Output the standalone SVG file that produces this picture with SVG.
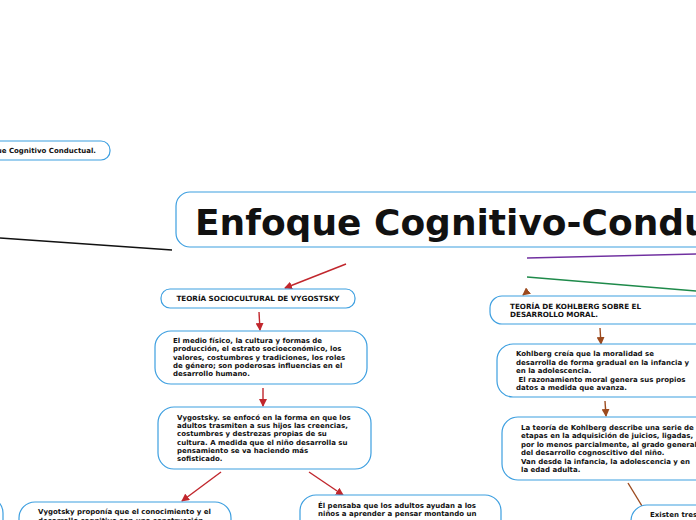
<svg xmlns="http://www.w3.org/2000/svg" width="696" height="520" viewBox="0 0 696 520">
<style>
.box{fill:#fff;stroke:#3d9fe0;stroke-width:1.2}
.t{font-family:"DejaVu Sans",Verdana,sans-serif;font-weight:bold;font-size:7px;fill:#111}
.c{font-size:7.2px}
.title{font-family:"DejaVu Sans",Verdana,sans-serif;font-weight:bold;font-size:36px;fill:#111}
.red{stroke:#c1272d;stroke-width:1.4;fill:none}
.brown{stroke:#9c4a1e;stroke-width:1.4;fill:none}
</style>
<defs>
<marker id="ar" markerWidth="8" markerHeight="8" refX="7" refY="4" orient="auto" markerUnits="userSpaceOnUse"><path d="M0,0 L8,4 L0,8 Z" fill="#c1272d"/></marker>
<marker id="ab" markerWidth="8" markerHeight="8" refX="7" refY="4" orient="auto" markerUnits="userSpaceOnUse"><path d="M0,0 L8,4 L0,8 Z" fill="#9c4a1e"/></marker>
</defs>
<rect width="696" height="520" fill="#fff"/>
<g id="connectors">
<line x1="0" y1="238" x2="172" y2="250" stroke="#111" stroke-width="1.5"/>
<line class="red" x1="346" y1="264" x2="285" y2="288" marker-end="url(#ar)"/>
<line x1="527" y1="258" x2="696" y2="254" stroke="#7030a0" stroke-width="1.4"/>
<line x1="527" y1="277" x2="696" y2="291" stroke="#1e8a4a" stroke-width="1.4"/>
<line class="brown" x1="528" y1="291" x2="523" y2="295" marker-end="url(#ab)"/>
<line class="red" x1="259" y1="312" x2="260" y2="330" marker-end="url(#ar)"/>
<line class="red" x1="263" y1="388" x2="263" y2="406" marker-end="url(#ar)"/>
<line class="red" x1="221" y1="472" x2="182" y2="501" marker-end="url(#ar)"/>
<line class="red" x1="309" y1="472" x2="343" y2="495" marker-end="url(#ar)"/>
<line class="brown" x1="600" y1="328" x2="601" y2="344" marker-end="url(#ab)"/>
<line class="brown" x1="605" y1="401" x2="606" y2="416" marker-end="url(#ab)"/>
<line class="brown" x1="628" y1="483" x2="642" y2="506"/>
</g>
<g id="n-left">
<rect class="box" x="-120" y="141" width="230" height="19" rx="9"/>
<text class="t" x="96" y="153" text-anchor="end">Enfoque Cognitivo Conductual.</text>
</g>
<g id="n-main">
<rect class="box" x="176" y="192" width="560" height="55" rx="14"/>
<text class="title" x="195" y="235">Enfoque Cognitivo-Conductual</text>
</g>
<g id="n-vyg">
<rect class="box" x="161" y="289" width="194" height="19" rx="9"/>
<text class="t c" x="258" y="301" text-anchor="middle">TEORÍA SOCIOCULTURAL DE VYGOSTSKY</text>
</g>
<g id="n-medio">
<rect class="box" x="155" y="331" width="212" height="53" rx="16"/>
<text class="t"><tspan x="173" y="343">El medio físico, la cultura y formas de</tspan><tspan x="173" y="351.3">producción, el estrato socioeconómico, los</tspan><tspan x="173" y="359.6">valores, costumbres y tradiciones, los roles</tspan><tspan x="173" y="367.9">de género; son poderosas influencias en el</tspan><tspan x="173" y="376.2">desarrollo humano.</tspan></text>
</g>
<g id="n-enfoco">
<rect class="box" x="158" y="407" width="213" height="62" rx="16"/>
<text class="t"><tspan x="177" y="420">Vygostsky. se enfocó en la forma en que los</tspan><tspan x="177" y="428.2">adultos trasmiten a sus hijos las creencias,</tspan><tspan x="177" y="436.4">costumbres y destrezas propias de su</tspan><tspan x="177" y="444.6">cultura. A medida que el niño desarrolla su</tspan><tspan x="177" y="452.8">pensamiento se va haciendo más</tspan><tspan x="177" y="461">sofisticado.</tspan></text>
</g>
<g id="n-edge">
<rect class="box" x="-200" y="497" width="203" height="60" rx="16"/>
</g>
<g id="n-proponia">
<rect class="box" x="19" y="502" width="212" height="60" rx="16"/>
<text class="t"><tspan x="38" y="514">Vygotsky proponía que el conocimiento y el</tspan><tspan x="38" y="522.5">desarrollo cognitivo son una construcción</tspan></text>
</g>
<g id="n-pensaba">
<rect class="box" x="300" y="495" width="201" height="60" rx="16"/>
<text class="t"><tspan x="318" y="507.5">Él pensaba que los adultos ayudan a los</tspan><tspan x="318" y="516">niños a aprender a pensar montando un</tspan></text>
</g>
<g id="n-kohl">
<rect class="box" x="490" y="296" width="260" height="28" rx="12"/>
<text class="t c"><tspan x="510" y="308.5">TEORÍA DE KOHLBERG SOBRE EL</tspan><tspan x="510" y="316.8">DESARROLLO MORAL.</tspan></text>
</g>
<g id="n-creia">
<rect class="box" x="497" y="344" width="250" height="53" rx="16"/>
<text class="t"><tspan x="516" y="356">Kohlberg creía que la moralidad se</tspan><tspan x="516" y="364.5">desarrolla de forma gradual en la infancia y</tspan><tspan x="516" y="373">en la adolescencia.</tspan><tspan x="516" y="381.5" xml:space="preserve"> El razonamiento moral genera sus propios</tspan><tspan x="516" y="390">datos a medida que avanza.</tspan></text>
</g>
<g id="n-etapas">
<rect class="box" x="502" y="417" width="250" height="63" rx="16"/>
<text class="t"><tspan x="521" y="430">La teoría de Kohlberg describe una serie de</tspan><tspan x="521" y="438.4">etapas en la adquisición de juicios, ligadas,</tspan><tspan x="521" y="446.8">por lo menos parcialmente, al grado general</tspan><tspan x="521" y="455.2">del desarrollo cognoscitivo del niño.</tspan><tspan x="521" y="463.6">Van desde la infancia, la adolescencia y en</tspan><tspan x="521" y="472">la edad adulta.</tspan></text>
</g>
<g id="n-existen">
<rect class="box" x="631" y="505" width="120" height="50" rx="16"/>
<text class="t" x="650" y="517">Existen tres</text>
</g>
</svg>
